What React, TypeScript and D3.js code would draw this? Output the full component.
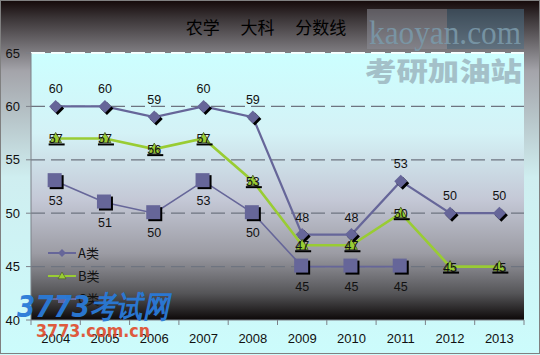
import React from "react";
import * as d3 from "d3";

const years = ["2004", "2005", "2006", "2007", "2008", "2009", "2010", "2011", "2012", "2013"];
const seriesA = [60, 60, 59, 60, 59, 48, 48, 53, 50, 50];
const seriesB = [57, 57, 56, 57, 53, 47, 47, 50, 45, 45];
const seriesC: (number | null)[] = [53, 51, 50, 53, 50, 45, 45, 45, null, null];
const yTicks = [40, 45, 50, 55, 60, 65];
const legendNames = ["A类", "B类", "C类"];

const W = 540, H = 355;
const left = 31, right = 524, top = 53, bottom = 320;

export default function App() {
  const x = d3.scaleBand<string>().domain(years).range([left, right]);
  const y = d3.scaleLinear().domain([40, 65]).range([bottom, top]);
  const cx = (i: number) => (x(years[i]) as number) + x.bandwidth() / 2;

  const line = d3
    .line<number | null>()
    .defined((d) => d != null)
    .x((_, i) => cx(i))
    .y((d) => y(d as number));

  const numFont = "'Liberation Sans', Arial, sans-serif";
  const diamond = (px: number, py: number, r: number) =>
    `M${px},${py - r}L${px + r},${py}L${px},${py + r}L${px - r},${py}Z`;
  const tri = (px: number, py: number, r: number) =>
    `M${px},${py - r}L${px + r},${py + r * 0.7}L${px - r},${py + r * 0.7}Z`;

  return (
    <svg width={W} height={H} style={{ display: "block", position: "absolute", left: 0, top: 0 }}>
      <defs>
        <linearGradient id="outer" x1="0" y1="0" x2="0" y2="1">
          <stop offset="0" stopColor="#140808" />
          <stop offset="0.05" stopColor="#3a3436" />
          <stop offset="0.2" stopColor="#a4a4aa" />
          <stop offset="0.5" stopColor="#cfeef0" />
          <stop offset="1" stopColor="#ccfcfc" />
        </linearGradient>
        <linearGradient id="plot" x1="0" y1="0" x2="0" y2="1">
          <stop offset="0" stopColor="#ccffff" />
          <stop offset="0.3" stopColor="#d4f2f6" />
          <stop offset="0.55" stopColor="#c4c8d6" />
          <stop offset="0.75" stopColor="#9c9ca4" />
          <stop offset="0.9" stopColor="#555558" />
          <stop offset="1" stopColor="#0c0808" />
        </linearGradient>
      </defs>
      <rect x={0} y={0} width={W} height={H} fill="url(#outer)" />
      <rect x={0.5} y={0.5} width={W - 1} height={H - 2} fill="none" stroke="#808080" strokeWidth={1} />
      <rect x={left} y={top} width={right - left} height={bottom - top} fill="url(#plot)" />

      {/* watermarks */}
      <rect x={367} y={9} width={80} height={40} fill="#8a8c96" opacity={0.55} />
      <rect x={447} y={9} width={77} height={40} fill="#4c6e84" opacity={0.55} />
      <text x={369} y={44} fontFamily="'Liberation Serif', serif" fontSize={34} fill="#7a98a8" opacity={0.9} textLength={152} lengthAdjust="spacingAndGlyphs">kaoyan.com</text>
      <text x={365} y={81} fontFamily="'Noto Sans CJK SC', sans-serif" fontWeight={900} fontSize={26} fill="#9ab2bc" opacity={0.8} textLength={157} lengthAdjust="spacingAndGlyphs">考研加油站</text>

      {/* gridlines */}
      {yTicks.map((t) => (
        <line key={t} x1={left} x2={right} y1={y(t)} y2={y(t)}
          stroke={t === 65 ? "#f4ffff" : "#6e7480"} strokeWidth={t === 65 ? 2 : 1.2} strokeDasharray="14,6"
          opacity={t === 40 ? 0 : 1} />
      ))}

      {/* axes */}
      <line x1={left} x2={left} y1={top} y2={bottom} stroke="#7c8088" />
      <line x1={left} x2={right} y1={bottom} y2={bottom} stroke="#7c8088" />
      {years.concat(["end"]).map((yr, i) => {
        const xx = i < years.length ? (x(yr) as number) : right;
        return <line key={yr} x1={xx} x2={xx} y1={bottom} y2={bottom + 5} stroke="#7c8088" />;
      })}
      {yTicks.map((t) => (
        <line key={"t" + t} x1={left - 5} x2={left} y1={y(t)} y2={y(t)} stroke="#7c8088" />
      ))}
      {yTicks.map((t) => (
        <text key={"l" + t} x={20} y={y(t) + 4.5} textAnchor="end" fontFamily={numFont} fontSize={13} fill="#111">{t}</text>
      ))}
      {years.map((yr, i) => (
        <text key={"x" + yr} x={cx(i)} y={343} textAnchor="middle" fontFamily={numFont} fontSize={13} fill="#111">{yr}</text>
      ))}

      {/* series lines */}
      <path d={line(seriesC) || ""} fill="none" stroke="#666699" strokeWidth={1.6} />
      <path d={line(seriesA) || ""} fill="none" stroke="#666699" strokeWidth={2.2} />
      <path d={line(seriesB) || ""} fill="none" stroke="#99cc33" strokeWidth={2.6} />

      {/* C markers */}
      {seriesC.map((v, i) => v == null ? null : (
        <g key={"c" + i}>
          <rect x={cx(i) - 6} y={y(v) - 6} width={14} height={14} fill="#000" />
          <rect x={cx(i) - 8} y={y(v) - 8} width={14} height={14} fill="#666699" />
          <text x={cx(i)} y={y(v) + 24} textAnchor="middle" fontFamily={numFont} fontSize={12.5} fill="#111">{v}</text>
        </g>
      ))}
      {/* A markers */}
      {seriesA.map((v, i) => (
        <g key={"a" + i}>
          <path d={diamond(cx(i) + 2, y(v) + 2, 6.5)} fill="#000" />
          <path d={diamond(cx(i), y(v), 6.5)} fill="#666699" />
          <text x={cx(i)} y={y(v) - 13} textAnchor="middle" fontFamily={numFont} fontSize={12.5} fill="#111">{v}</text>
        </g>
      ))}
      {/* B markers */}
      {seriesB.map((v, i) => (
        <g key={"b" + i}>
          <rect x={cx(i) - 7} y={y(v) + 5} width={16} height={2} fill="#000" />
          <path d={tri(cx(i), y(v), 6)} fill="#99cc33" stroke="#445522" strokeWidth={0.8} />
          <text x={cx(i)} y={y(v) + 5} textAnchor="middle" fontFamily={numFont} fontSize={12.5} fill="#111">{v}</text>
        </g>
      ))}

      {/* legend */}
      {legendNames.map((nm, i) => {
        const ly = 253 + i * 23;
        const col = i === 1 ? "#99cc33" : "#666699";
        return (
          <g key={nm}>
            <line x1={48} x2={76} y1={ly} y2={ly} stroke={col} strokeWidth={2} />
            {i === 0 && <path d={diamond(62, ly, 4)} fill={col} />}
            {i === 1 && <path d={tri(62, ly, 4)} fill={col} stroke="#445522" strokeWidth={0.6} />}
            {i === 2 && <rect x={58} y={ly - 4} width={8} height={8} fill={col} />}
            <text x={78} y={ly + 5} fontFamily="'Noto Sans CJK SC', sans-serif" fontSize={13} fill="#111">{nm}</text>
          </g>
        );
      })}

      {/* 3773 watermark */}
      <text x={17} y={317} fontFamily="'DejaVu Sans', sans-serif" fontStyle="italic" fontWeight={700} fontSize={30} fill="#2a7ad8" opacity={0.95} textLength={152} lengthAdjust="spacingAndGlyphs">3773考试网</text>
      <text x={36} y={337} fontFamily="'DejaVu Sans', sans-serif" fontWeight={700} fontSize={17} fill="#e04a2a" opacity={0.9} textLength={114} lengthAdjust="spacingAndGlyphs">3773.com.cn</text>

      {/* title */}
      <text x={266} y={34} textAnchor="middle" fontFamily="'Noto Sans CJK SC', sans-serif" fontSize={17} fill="#000" style={{ whiteSpace: "pre" }}>{"农学　 大科　 分数线"}</text>
    </svg>
  );
}
